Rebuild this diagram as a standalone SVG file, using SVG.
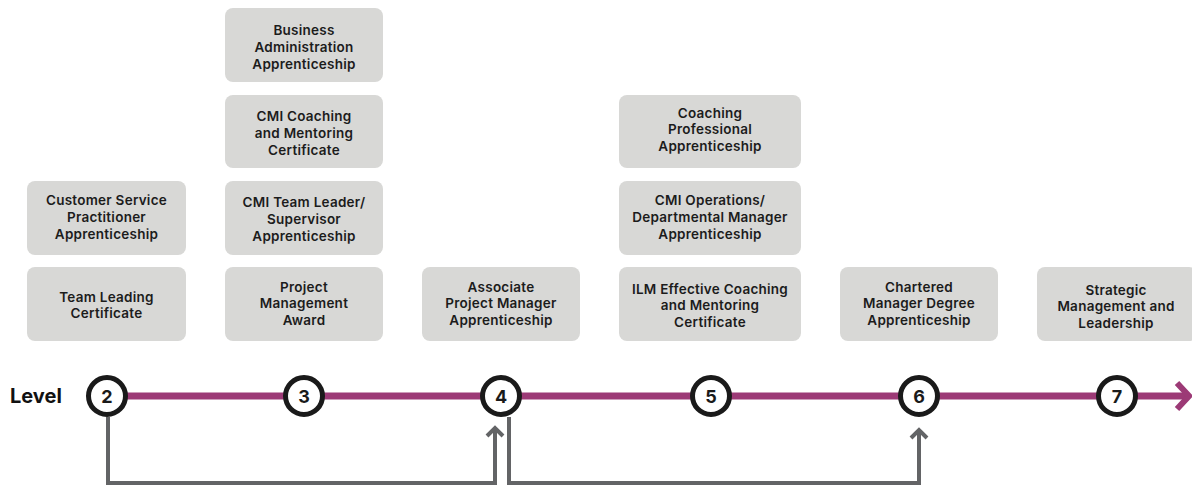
<svg xmlns="http://www.w3.org/2000/svg" width="1192" height="486" viewBox="0 0 1192 486">
<style>
.box rect{fill:#d8d8d6;}
.box text{font-family:Inter,"Open Sans","Liberation Sans",sans-serif;font-weight:600;font-size:13.5px;letter-spacing:0.25px;fill:#1c1c1c;text-anchor:middle;}
.lvl circle{fill:#fff;stroke:#1a1a1a;stroke-width:5;}
.lvl text{font-family:Inter,"Open Sans","Liberation Sans",sans-serif;font-weight:700;font-size:18px;fill:#1a1a1a;text-anchor:middle;}
.conn{fill:none;stroke:#636466;stroke-width:4;}
</style>
<rect width="1192" height="486" fill="#fff"/>

<text x="10" y="403" font-family="Inter,'Open Sans','Liberation Sans',sans-serif" font-weight="700" font-size="20" fill="#111">Level</text>

<g id="timeline">
<line x1="110" y1="396" x2="1186" y2="396" stroke="#9c3a76" stroke-width="7"/>
<polyline points="1177,383 1189,396 1177,409" fill="none" stroke="#9c3a76" stroke-width="6"/>
</g>

<g id="connectors" class="conn">
<path d="M108,417 V483 H495 V428"/>
<polyline points="487,436 495,428 503,436"/>
<path d="M509,417 V483 H919 V430"/>
<polyline points="911,438 919,430 927,438"/>
</g>

<g id="level2" class="lvl"><circle cx="107" cy="396" r="18.5"/><text x="107" y="402.5">2</text></g>
<g id="level3" class="lvl"><circle cx="304" cy="396" r="18.5"/><text x="304" y="402.5">3</text></g>
<g id="level4" class="lvl"><circle cx="501" cy="396" r="18.5"/><text x="501" y="402.5">4</text></g>
<g id="level5" class="lvl"><circle cx="711" cy="396" r="18.5"/><text x="711" y="402.5">5</text></g>
<g id="level6" class="lvl"><circle cx="919" cy="396" r="18.5"/><text x="919" y="402.5">6</text></g>
<g id="level7" class="lvl"><circle cx="1117" cy="396" r="18.5"/><text x="1117" y="402.5">7</text></g>

<g id="customer-service" class="box"><rect x="27" y="181" width="159" height="74" rx="8"/>
<text x="106.5" y="205">Customer Service</text><text x="106.5" y="222">Practitioner</text><text x="106.5" y="239">Apprenticeship</text></g>
<g id="team-leading" class="box"><rect x="27" y="267" width="159" height="74" rx="8"/>
<text x="106.5" y="302">Team Leading</text><text x="106.5" y="318">Certificate</text></g>

<g id="business-admin" class="box"><rect x="225" y="8" width="158" height="74" rx="8"/>
<text x="304" y="35">Business</text><text x="304" y="52">Administration</text><text x="304" y="69">Apprenticeship</text></g>
<g id="cmi-coaching" class="box"><rect x="225" y="95" width="158" height="73" rx="8"/>
<text x="304" y="121">CMI Coaching</text><text x="304" y="138">and Mentoring</text><text x="304" y="155">Certificate</text></g>
<g id="cmi-team-leader" class="box"><rect x="225" y="181" width="158" height="74" rx="8"/>
<text x="304" y="207">CMI Team Leader/</text><text x="304" y="224">Supervisor</text><text x="304" y="241">Apprenticeship</text></g>
<g id="project-management" class="box"><rect x="225" y="267" width="158" height="74" rx="8"/>
<text x="304" y="292">Project</text><text x="304" y="308">Management</text><text x="304" y="325">Award</text></g>

<g id="associate-pm" class="box"><rect x="422" y="267" width="158" height="74" rx="8"/>
<text x="501" y="292">Associate</text><text x="501" y="308">Project Manager</text><text x="501" y="325">Apprenticeship</text></g>

<g id="coaching-professional" class="box"><rect x="619" y="95" width="182" height="73" rx="8"/>
<text x="710" y="118">Coaching</text><text x="710" y="134">Professional</text><text x="710" y="151">Apprenticeship</text></g>
<g id="cmi-operations" class="box"><rect x="619" y="181" width="182" height="74" rx="8"/>
<text x="710" y="205">CMI Operations/</text><text x="710" y="222">Departmental Manager</text><text x="710" y="239">Apprenticeship</text></g>
<g id="ilm-coaching" class="box"><rect x="619" y="267" width="182" height="74" rx="8"/>
<text x="710" y="294">ILM Effective Coaching</text><text x="710" y="310">and Mentoring</text><text x="710" y="327">Certificate</text></g>

<g id="chartered-manager" class="box"><rect x="840" y="267" width="158" height="74" rx="8"/>
<text x="919" y="292">Chartered</text><text x="919" y="308">Manager Degree</text><text x="919" y="325">Apprenticeship</text></g>

<g id="strategic-management" class="box"><rect x="1037" y="267" width="160" height="74" rx="8"/>
<text x="1116" y="295">Strategic</text><text x="1116" y="311">Management and</text><text x="1116" y="328">Leadership</text></g>
</svg>
